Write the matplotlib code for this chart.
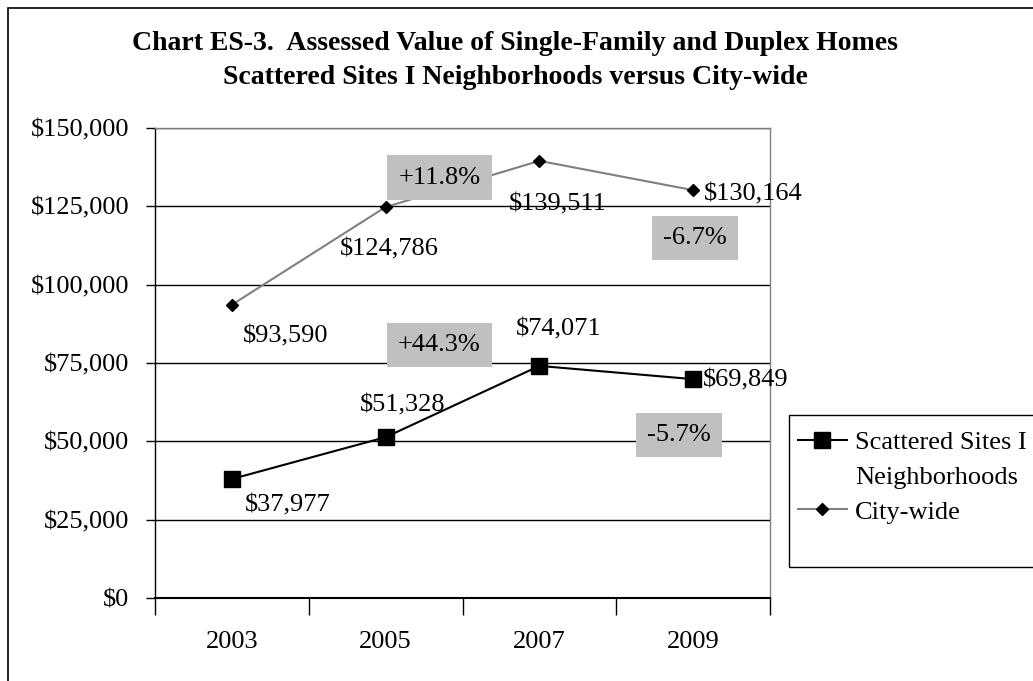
import matplotlib
matplotlib.use("Agg")
import matplotlib.pyplot as plt
from matplotlib.lines import Line2D
from matplotlib.patches import Rectangle
from matplotlib.ticker import FuncFormatter, FixedLocator

plt.rcParams['font.family'] = ['Liberation Serif', 'DejaVu Serif']

# data
years = ["2003", "2005", "2007", "2009"]
scattered = [37977, 51328, 74071, 69849]
citywide = [93590, 124786, 139511, 130164]
pct_labels = ["+11.8%", "-6.7%", "+44.3%", "-5.7%"]

# label placement (pixel offsets from each point)
city_off = [(54, -32, 'center'), (4, -42, 'center'), (18, -44, 'center'), (11, -4, 'left')]
scat_off = [(56, -26, 'center'), (17, 32, 'center'), (19, 36, 'center'), (10, -1, 'left')]
# percentage box positions (data coords)
pct_pos = [(1.35, 134200), (3.01, 115000), (1.35, 80700), (2.91, 52000)]

W, H = 1033, 681
fig = plt.figure(figsize=(W / 100, H / 100), dpi=100)
ax = fig.add_axes([155 / W, 1 - 598 / H, 615 / W, 470 / H])

x = list(range(len(years)))
l_city, = ax.plot(x, citywide, color='#808080', lw=1.5, marker='D', ms=6,
                  mfc='black', mec='black', zorder=4)
l_scat, = ax.plot(x, scattered, color='black', lw=1.5, marker='s', ms=11,
                  mfc='black', mec='black', zorder=4)

fs = 19
for i, v in enumerate(citywide):
    dx, dy, ha = city_off[i]
    ax.annotate(f"${v:,}", (i, v), xytext=(dx, dy), textcoords='offset pixels',
                ha=ha, va='center', fontsize=fs)
for i, v in enumerate(scattered):
    dx, dy, ha = scat_off[i]
    ax.annotate(f"${v:,}", (i, v), xytext=(dx, dy), textcoords='offset pixels',
                ha=ha, va='center', fontsize=fs)

for txt, (px, py) in zip(pct_labels, pct_pos):
    ax.text(px, py, txt, ha='center', va='center', fontsize=fs, zorder=5,
            bbox=dict(boxstyle='square,pad=0.42', facecolor='#c0c0c0', edgecolor='none'))

ax.set_xlim(-0.5, 3.5)
ax.set_ylim(0, 150000)
ax.yaxis.set_major_locator(FixedLocator(range(0, 150001, 25000)))
ax.yaxis.set_major_formatter(FuncFormatter(lambda v, p: f"${int(v):,}"))
ax.grid(axis='y', color='black', lw=1)
ax.set_axisbelow(True)

ax.set_xticks([-0.5, 0.5, 1.5, 2.5, 3.5])
ax.set_xticklabels([])
ax.set_xticks(x, minor=True)
ax.set_xticklabels(years, minor=True)
ax.tick_params(axis='x', which='major', length=12, width=1, color='black')
ax.tick_params(axis='x', which='minor', length=0, pad=24, labelsize=fs)
ax.tick_params(axis='y', length=6.5, width=1, color='black', labelsize=fs, pad=12)

for side in ['top', 'right']:
    ax.spines[side].set_color('#808080')
    ax.spines[side].set_linewidth(1)
ax.spines['left'].set_color('black')
ax.spines['left'].set_linewidth(1)
ax.spines['bottom'].set_color('black')
ax.spines['bottom'].set_linewidth(1.5)

fig.text(515 / W, 1 - 43 / H, "Chart ES-3.  Assessed Value of Single-Family and Duplex Homes",
         ha='center', va='center', fontsize=20, fontweight='bold')
fig.text(515 / W, 1 - 78 / H, "Scattered Sites I Neighborhoods versus City-wide",
         ha='center', va='center', fontsize=20, fontweight='bold')

# outer chart frame
fig.patches.append(Rectangle((8 / W, -0.1), 1.2, 1 - 8 / H + 0.1, transform=fig.transFigure,
                             fill=False, edgecolor='black', lw=1.2))
# legend frame
fig.patches.append(Rectangle((789 / W, 1 - 567 / H), 300 / W, 152 / H, transform=fig.transFigure,
                             fill=False, edgecolor='black', lw=1))

# legend: second line of the first label is a blank entry so the handle sits on line one
blank = Line2D([], [], linestyle='none', marker='none')
leg = fig.legend([l_scat, blank, l_city], ['Scattered Sites I', 'Neighborhoods', 'City-wide'],
                 loc='upper left', bbox_to_anchor=(798 / W, 1 - 431 / H),
                 frameon=False, fontsize=fs, handlelength=1.85, handletextpad=0.3,
                 labelspacing=0.42, borderaxespad=0, borderpad=0)

fig.savefig("out.png", dpi=100)
